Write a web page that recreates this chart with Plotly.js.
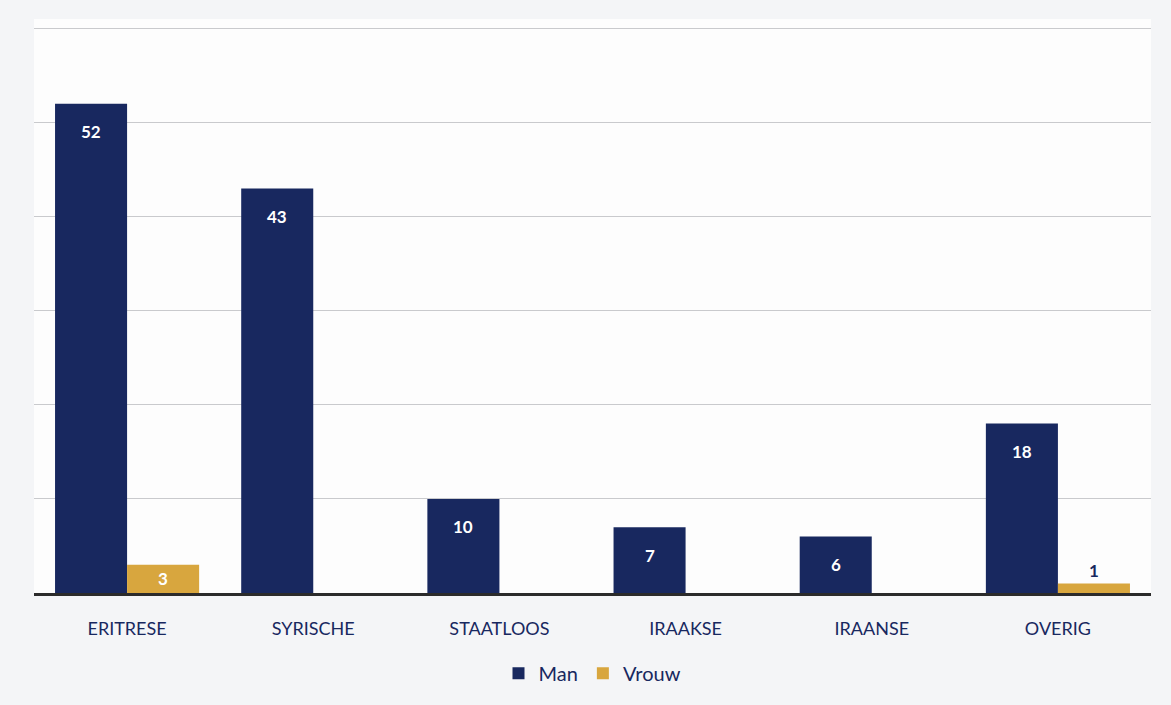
<!DOCTYPE html>
<html>
<head>
<meta charset="utf-8">
<script src="https://cdn.plot.ly/plotly-3.0.1.min.js"></script>
<style>html,body{margin:0;padding:0;background:#f6f7f9;}#chart{width:1171px;height:705px;}</style>
</head>
<body>
<div id="chart"></div>
<script>
const categories = ['ERITRESE', 'SYRISCHE', 'STAATLOOS', 'IRAAKSE', 'IRAANSE', 'OVERIG'];
const manValues = [52, 43, 10, 7, 6, 18];
const vrouwValues = [3, null, null, null, null, 1];
const vrouwTextPos = ['inside', 'inside', 'inside', 'inside', 'inside', 'outside'];

const navy = '#18285f';
const gold = '#d8a63e';
const fontFam = 'Lato, "Open Sans", sans-serif';

const traces = [
  {
    type: 'bar', name: 'Man', x: categories, y: manValues,
    marker: {color: navy},
    hoverinfo: 'x+y'
  },
  {
    type: 'bar', name: 'Vrouw', x: categories, y: vrouwValues,
    marker: {color: gold},
    text: vrouwValues.map(v => v == null ? '' : String(v)),
    textposition: vrouwTextPos,
    insidetextanchor: 'middle',
    insidetextfont: {color: '#ffffff', size: 17, family: fontFam, weight: 'bold'},
    outsidetextfont: {color: navy, size: 17, family: fontFam, weight: 'bold'},
    cliponaxis: false,
    hoverinfo: 'x+y'
  }
];

const annotations = manValues.map((v, i) => ({
  x: categories[i], y: v, xref: 'x', yref: 'y',
  text: String(v), showarrow: false,
  xshift: -36, yshift: -28,
  font: {color: '#ffffff', size: 17, family: fontFam, weight: 'bold'}
}));

const layout = {
  width: 1171, height: 705,
  margin: {l: 34, r: 20, t: 19, b: 108},
  paper_bgcolor: '#f4f5f7',
  plot_bgcolor: '#fdfdfd',
  barmode: 'group',
  bargap: 0.226,
  bargroupgap: 0,
  showlegend: true,
  legend: {
    orientation: 'h', x: 0.5, xanchor: 'center', y: -0.14, yanchor: 'middle',
    font: {color: navy, size: 20, family: fontFam},
    itemwidth: 30
  },
  xaxis: {
    type: 'category',
    tickfont: {color: navy, size: 18, family: fontFam},
    ticks: '', ticklabelstandoff: 17,
    showline: true, linecolor: '#2b2b2b', linewidth: 3,
    showgrid: false, zeroline: false
  },
  yaxis: {
    range: [0, 61], dtick: 10,
    showticklabels: false,
    showgrid: true, gridcolor: '#c9cacd', gridwidth: 1,
    zeroline: false, showline: false
  },
  annotations: annotations
};

Plotly.newPlot('chart', traces, layout, {displayModeBar: false, staticPlot: true});
</script>
</body>
</html>
